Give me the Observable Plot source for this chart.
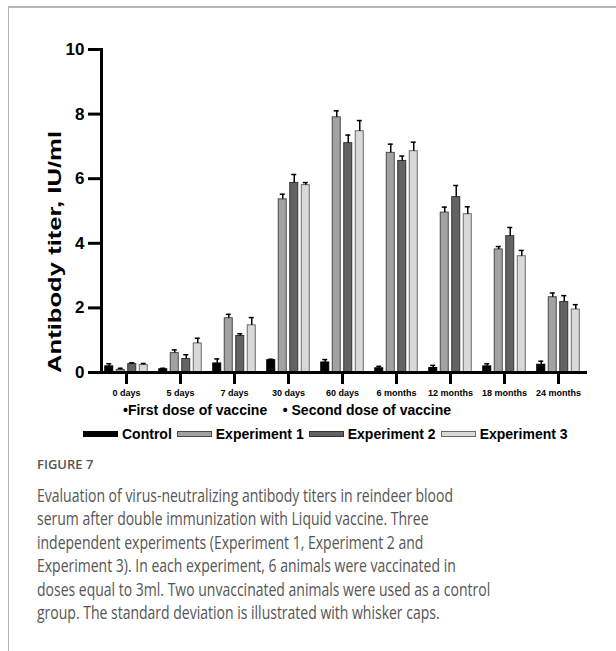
<!DOCTYPE html>
<html>
<head>
<meta charset="utf-8">
<script src="https://cdn.jsdelivr.net/npm/d3@7"></script>
<script src="https://cdn.jsdelivr.net/npm/@observablehq/plot@0.6"></script>
<style>
  html, body { margin: 0; padding: 0; background: #fff; }
  #wrap { position: relative; width: 616px; height: 651px; overflow: hidden; background: #fff; }
  #frame { position: absolute; left: 8px; top: 6px; width: 610px; height: 650px;
           border-top: 2px solid #b5b5b5; border-left: 1.5px solid #b5b5b5; box-sizing: border-box; }
  #chart { position: absolute; left: 0; top: 0; }
  .bold { font-family: "Liberation Sans", Arial, sans-serif; font-weight: bold; color: #000; }
  #dose { position: absolute; left: 123px; top: 402px; font-size: 14px; line-height: 16px; white-space: pre; }
  #legend { position: absolute; left: 83px; top: 426px; font-size: 14px; line-height: 16px; white-space: nowrap; display: flex; align-items: center; }
  #legend .item { display: flex; align-items: center; margin-right: 5px; }
  #legend .sw { width: 35px; height: 6px; box-sizing: border-box; margin-right: 4px; }
  #figlabel { position: absolute; left: 37px; top: 455px; font-family: "Open Sans", sans-serif; font-size: 13px; color: #555; font-weight: 600; }
  #caption { position: absolute; left: 37px; top: 484px; font-family: "Open Sans", sans-serif; font-size: 18px; line-height: 23.4px; color: #555; white-space: nowrap; transform-origin: 0 0; }
  #caption span { display: inline-block; }
</style>
</head>
<body>
<div id="wrap">
  <div id="frame"></div>
  <div id="chart"></div>
  <div id="dose" class="bold"></div>
  <div id="legend" class="bold"></div>
  <div id="figlabel"></div>
  <div id="caption"></div>
</div>
<script>
// ---- data ----
const categories = ["0 days", "5 days", "7 days", "30 days", "60 days", "6 months", "12 months", "18 months", "24 months"];
const seriesNames = ["Control", "Experiment 1", "Experiment 2", "Experiment 3"];
const control    = [0.19, 0.10, 0.28, 0.38, 0.31, 0.13, 0.14, 0.19, 0.24];
const controlErr = [0.08, 0.03, 0.14, 0.03, 0.09, 0.06, 0.08, 0.08, 0.11];
const exp1       = [0.08, 0.60, 1.68, 5.36, 7.90, 6.80, 4.95, 3.81, 2.33];
const exp1Err    = [0.05, 0.10, 0.12, 0.16, 0.20, 0.27, 0.17, 0.09, 0.13];
const exp2       = [0.26, 0.42, 1.13, 5.87, 7.10, 6.55, 5.43, 4.22, 2.18];
const exp2Err    = [0.04, 0.13, 0.07, 0.26, 0.25, 0.15, 0.36, 0.27, 0.20];
const exp3       = [0.23, 0.90, 1.46, 5.80, 7.47, 6.85, 4.90, 3.60, 1.95];
const exp3Err    = [0.05, 0.16, 0.24, 0.08, 0.33, 0.28, 0.23, 0.18, 0.15];
const yTicks = [0, 2, 4, 6, 8, 10];
const yLabel = "Antibody titer, IU/ml";
const doseText = "\u2022First dose of vaccine    \u2022 Second dose of vaccine";
const figureLabel = "FIGURE 7";
const captionLines = [
  "Evaluation of virus-neutralizing antibody titers in reindeer blood",
  "serum after double immunization with Liquid vaccine. Three",
  "independent experiments (Experiment 1, Experiment 2 and",
  "Experiment 3). In each experiment, 6 animals were vaccinated in",
  "doses equal to 3ml. Two unvaccinated animals were used as a control",
  "group. The standard deviation is illustrated with whisker caps."
];

// ---- styles ----
const fills   = ["#000000", "#a2a2a2", "#636363", "#d9d9d9"];
const strokes = ["#000000", "#4a4a4a", "#333333", "#6a6a6a"];
const values = [control, exp1, exp2, exp3];
const errs = [controlErr, exp1Err, exp2Err, exp3Err];

const rows = categories.flatMap((c, j) => seriesNames.map((s, i) => ({cat: c, series: s, value: values[i][j], err: errs[i][j]})));

const half = 27, step = 11.5, barHalf = 4, capHalf = 2.5;
const marks = [];
seriesNames.forEach((s, i) => {
  const o = (i - 1.5) * step;
  const d = rows.filter(r => r.series === s);
  marks.push(Plot.barY(d, {x: "cat", y: "value", fill: fills[i], stroke: strokes[i], strokeWidth: 1,
    insetLeft: half + o - barHalf, insetRight: half - o - barHalf}));
  marks.push(Plot.ruleX(d, {x: "cat", y1: "value", y2: r => r.value + r.err, dx: o, stroke: "#000", strokeWidth: 1.5}));
  marks.push(Plot.tickY(d, {x: "cat", y: r => r.value + r.err, stroke: "#000", strokeWidth: 1.5,
    insetLeft: half + o - capHalf, insetRight: half - o - capHalf}));
});

const chart = Plot.plot({
  width: 616, height: 400,
  marginLeft: 101, marginRight: 29, marginTop: 49, marginBottom: 28,
  x: {domain: categories, range: [99, 585], padding: 0},
  y: {domain: [0, 10]},
  style: {fontFamily: "'Liberation Sans', Arial, sans-serif", color: "#000", background: "transparent", overflow: "visible"},
  marks: [
    ...marks,
    Plot.ruleY([0], {strokeWidth: 3, stroke: "#000"}),
    Plot.frame({anchor: "left", strokeWidth: 3, stroke: "#000"}),
    Plot.axisY({ticks: yTicks, tickSize: 13, strokeWidth: 3, fontSize: 17, fontWeight: "bold", tickPadding: 4, label: null}),
    Plot.axisX({tickSize: 12, strokeWidth: 3, fontSize: 9, fontWeight: "bold", tickPadding: 5, label: null})
  ]
});
document.getElementById("chart").appendChild(chart);

d3.select(chart).append("text")
  .attr("transform", "translate(61,252) rotate(-90)")
  .attr("text-anchor", "middle")
  .attr("font-family", "'Liberation Sans', Arial, sans-serif")
  .attr("font-weight", "bold")
  .attr("font-size", 19)
  .attr("textLength", 242)
  .attr("lengthAdjust", "spacingAndGlyphs")
  .attr("fill", "#000")
  .text(yLabel);

document.getElementById("dose").textContent = doseText;

const leg = d3.select("#legend");
seriesNames.forEach((s, i) => {
  const it = leg.append("div").attr("class", "item");
  it.append("div").attr("class", "sw").style("background", fills[i]).style("border", `1px solid ${strokes[i]}`);
  it.append("span").text(s);
});

document.getElementById("figlabel").textContent = figureLabel;
const cap = d3.select("#caption");
captionLines.forEach(l => cap.append("div").append("span").text(l));
// condense caption so the first line spans the same width as in the figure
const firstW = cap.select("span").node().getBoundingClientRect().width;
cap.style("transform", `scaleX(${416 / firstW})`);
</script>
</body>
</html>
